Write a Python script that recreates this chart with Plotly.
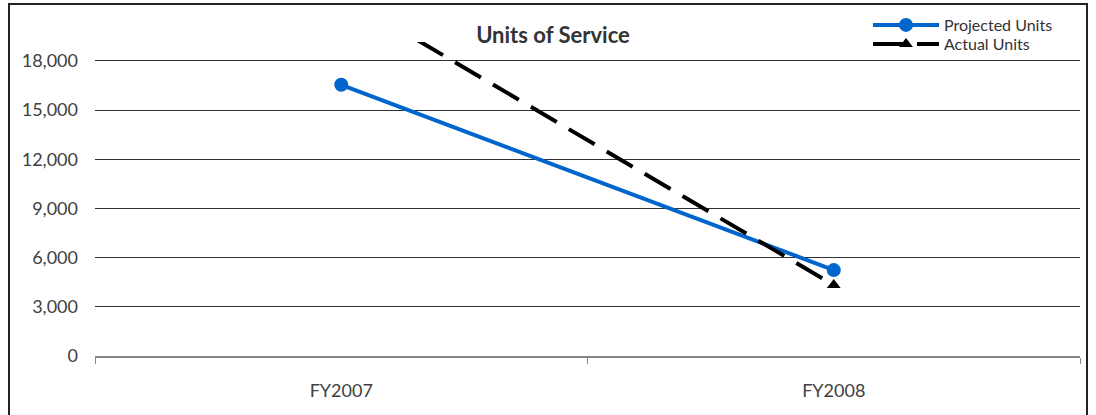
import plotly.graph_objects as go

categories = ["FY2007", "FY2008"]
projected_units = [16540, 5240]
actual_units = [22000, 4330]
y_ticks = [0, 3000, 6000, 9000, 12000, 15000, 18000]
y_tick_labels = ["0", "3,000", "6,000", "9,000", "12,000", "15,000", "18,000"]

W, H = 1096, 415
L, R, T, B = 95, 16, 42, 59
pw, ph = W - L - R, H - T - B

font_family = "Lato, 'Open Sans', sans-serif"

fig = go.Figure()
fig.add_trace(go.Scatter(
    x=categories, y=projected_units, name="Projected Units",
    mode="lines+markers", legend="legend",
    line=dict(color="#0066CC", width=4),
    marker=dict(symbol="circle", size=14, color="#0066CC"),
    cliponaxis=False,
))
fig.add_trace(go.Scatter(
    x=categories, y=actual_units, name="Actual Units",
    mode="lines+markers", legend="legend2",
    line=dict(color="#000000", width=4, dash="30px,14px"),
    marker=dict(symbol="triangle-up", size=12, color="#000000"),
    cliponaxis=True,
))

def px_x(p):
    return (p - L) / pw

def px_y(p):
    return (H - B - p) / ph

legend_common = dict(xanchor="left", yanchor="top", xref="container", yref="container",
                     font=dict(size=16, color="#333333", family=font_family),
                     bgcolor="rgba(0,0,0,0)", itemwidth=66)

fig.update_layout(
    width=W, height=H,
    margin=dict(l=L, r=R, t=T, b=B, autoexpand=False),
    paper_bgcolor="white", plot_bgcolor="white",
    font=dict(family=font_family, color="#404040", size=18),
    title=dict(text="<b>Units of Service</b>", x=553 / W, xanchor="center",
               y=1 - 35 / H, yanchor="middle", yref="container",
               font=dict(size=22, color="#333333", family=font_family)),
    showlegend=True,
    legend=dict(x=868 / W, y=1 - 8 / H, **legend_common),
    legend2=dict(x=868 / W, y=1 - 27 / H, **legend_common),
    xaxis=dict(
        type="category", range=[-0.5, 1.5], showgrid=False,
        showline=True, linecolor="#868686", linewidth=1.5,
        ticks="outside", tickson="boundaries", ticklen=6, tickcolor="#868686",
        tickfont=dict(size=18, color="#404040"), zeroline=False,
        ticklabelstandoff=18, automargin=False,
    ),
    yaxis=dict(
        range=[0, 19150], tickvals=y_ticks, ticktext=y_tick_labels,
        showgrid=True, gridcolor="#303030", gridwidth=1,
        showline=False, zeroline=False, ticks="", ticklabelstandoff=16,
        tickfont=dict(size=18, color="#404040"), automargin=False,
    ),
    shapes=[dict(type="rect", xref="paper", yref="paper",
                 x0=px_x(9), x1=px_x(1087), y0=px_y(430), y1=px_y(4),
                 line=dict(color="#222222", width=2), fillcolor="rgba(0,0,0,0)", layer="above")],
)

fig.write_html("out.html", config={"displayModeBar": False},
               post_script="document.body.style.margin='0';")
